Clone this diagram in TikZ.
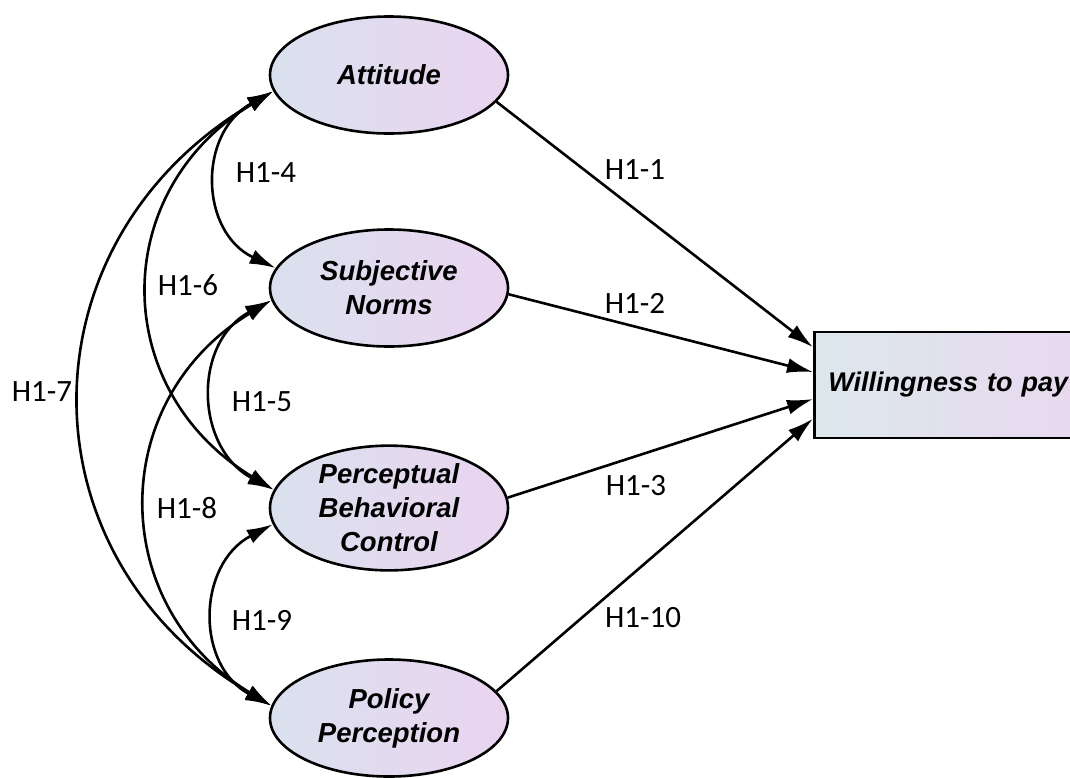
\documentclass[tikz,border=0pt]{standalone}
\usepackage{fontspec}
\usetikzlibrary{shapes.geometric,arrows.meta,calc}
\newfontfamily\labfont{Carlito}
\newfontfamily\varfont{Liberation Sans}
\definecolor{ellL}{RGB}{218,225,238}
\definecolor{ellR}{RGB}{234,212,240}
\definecolor{boxL}{RGB}{220,232,236}
\definecolor{boxR}{RGB}{234,214,240}
\begin{document}
\begin{tikzpicture}[x=1pt,y=-1pt,
  latent/.style={ellipse,draw,line width=2.6pt,minimum width=238pt,minimum height=117pt,
    inner sep=0pt,left color=ellL,right color=ellR,align=center,
    font=\varfont\bfseries\itshape\fontsize{27.5}{34}\selectfont},
  observed/.style={rectangle,draw,line width=2.6pt,minimum height=106pt,
    inner xsep=14pt,text width=280pt,align=left,left color=boxL,right color=boxR,
    font=\varfont\bfseries\itshape\fontsize{27}{34}\selectfont},
  hyp/.style={font=\labfont\fontsize{31}{36}\selectfont,inner sep=0pt},
  effect/.style={line width=2.6pt,-{Latex[length=26pt,width=15pt]}},
  covar/.style={line width=2.6pt,{Latex[length=26pt,width=15pt]}-{Latex[length=26pt,width=15pt]}}
]
\useasboundingbox (0,0) rectangle (1070,777);
\clip (0,0) rectangle (1070,777);

% latent constructs
\node[latent] (att) at (389,75) {Attitude};
\node[latent] (sub) at (389,288) {Subjective\\Norms};
\node[latent] (per) at (389,508) {Perceptual\\Behavioral\\Control};
\node[latent] (pol) at (389,718) {Policy\\Perception};

% outcome
\node[observed,anchor=west] (wtp) at (813,385) {Willingness to pay};

% entry points on the outcome box
\coordinate (w1) at ($(wtp.north west)!0.152!(wtp.south west)$);
\coordinate (w2) at ($(wtp.north west)!0.381!(wtp.south west)$);
\coordinate (w3) at ($(wtp.north west)!0.629!(wtp.south west)$);
\coordinate (w4) at ($(wtp.north west)!0.810!(wtp.south west)$);

% direct effects
\draw[effect] (att.-14) -- (w1);
\draw[effect] (sub.-3) -- (w2);
\draw[effect] (per.5) -- (w3);
\draw[effect] (pol.14) -- (w4);

% covariances (arcs bowing to the left)
\draw[covar] (att.188) .. controls +(-76,42) and +(-76,-36) .. (sub.170);
\draw[covar] (sub.186) .. controls +(-79,42) and +(-79,-42) .. (per.171);
\draw[covar] (per.188) .. controls +(-76,40) and +(-76,-40) .. (pol.174);
\draw[covar] (att.188) .. controls +(-165,100) and +(-165,-100) .. (per.171);
\draw[covar] (sub.186) .. controls +(-165,100) and +(-165,-100) .. (pol.174);
\draw[covar] (att.188) .. controls +(-254,150) and +(-254,-150) .. (pol.174);

% hypothesis labels
\node[hyp] (h1) at (635,170) {H1-1};
\node[hyp] (h2) at (635,303) {H1-2};
\node[hyp] (h3) at (636,486) {H1-3};
\node[hyp] (h10) at (643,618) {H1-10};
\node[hyp] (h4) at (266,173) {H1-4};
\node[hyp] (h5) at (262,402) {H1-5};
\node[hyp] (h6) at (188,285) {H1-6};
\node[hyp] (h7) at (42,392) {H1-7};
\node[hyp] (h8) at (187,508) {H1-8};
\node[hyp] (h9) at (262,620) {H1-9};
\end{tikzpicture}
\end{document}
